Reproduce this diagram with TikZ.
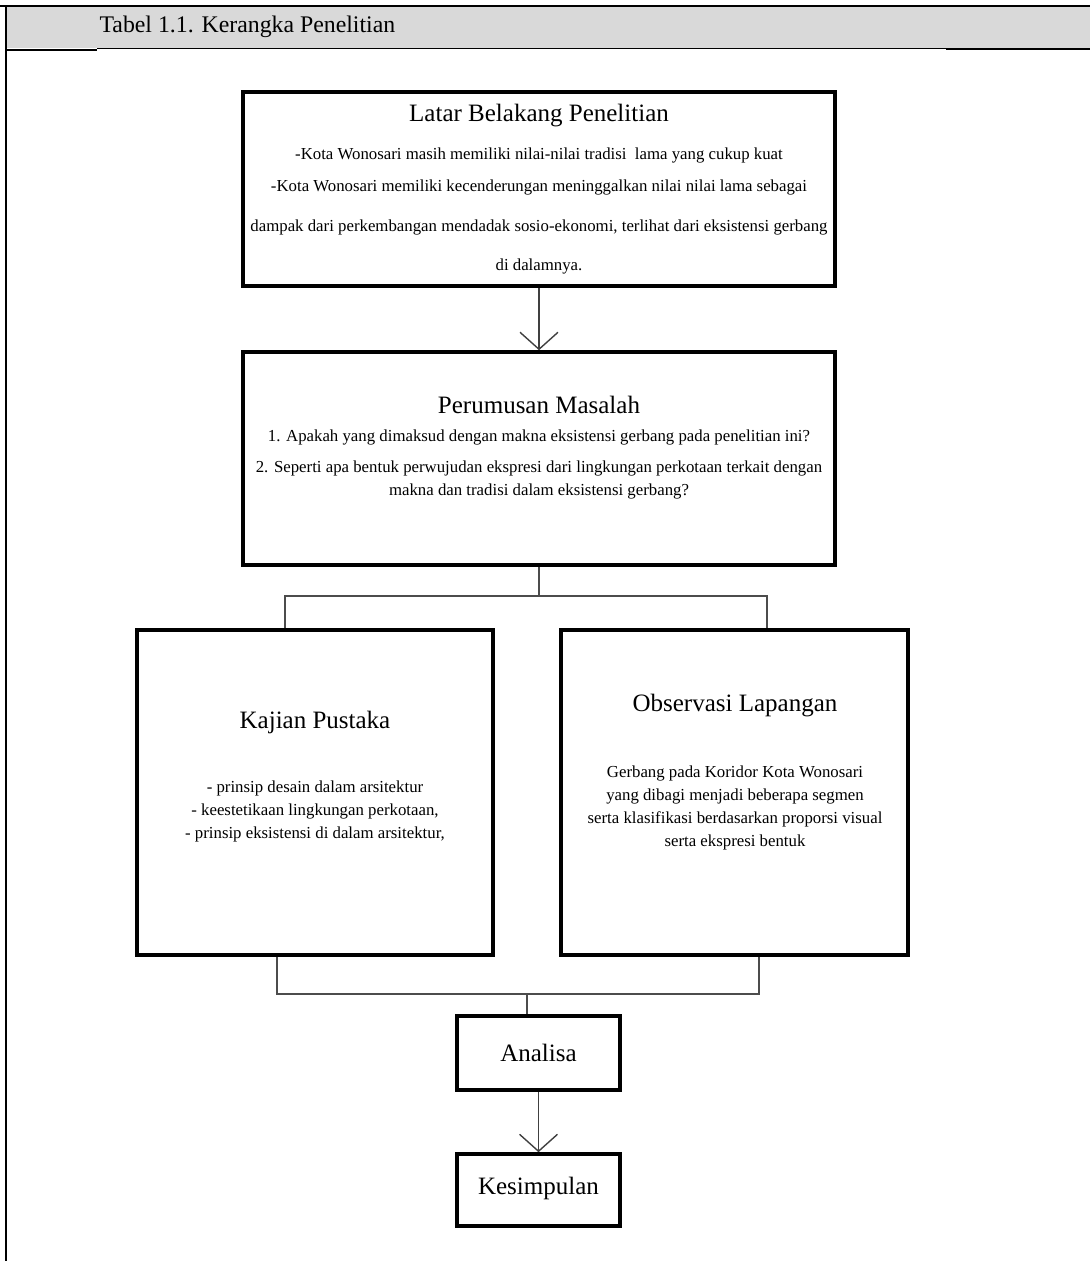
\documentclass[tikz,border=0pt]{standalone}
\usepackage{fontspec}
\setmainfont{Liberation Serif}
\usetikzlibrary{arrows.meta}

\begin{document}
\begin{tikzpicture}[x=1pt,y=-1pt,
    box/.style={draw=black, line width=3.6pt, inner sep=0pt},
    link/.style={draw=black!70, line width=1.8pt},
    flow/.style={draw=black!75, line width=1.4pt,
        -{Straight Barb[length=17pt,width=38pt,line width=1.4pt]}},
    title/.style={font=\fontsize{25}{30}\selectfont},
    body/.style={font=\fontsize{16.8}{23}\selectfont, align=center}]

    % page frame and header
    \useasboundingbox (0,0) rectangle (1090,1261);
    \fill[black!15] (6,7) rectangle (1090,48);
    \draw[line width=2pt] (0,6) -- (1090,6);
    \draw[line width=2pt] (6,5) -- (6,1261);
    \draw[line width=1.6pt] (6,50) -- (97,50);
    \draw[line width=0.8pt] (97,48.5) -- (946,48.5);
    \draw[line width=2.6pt] (946,49) -- (1090,49);
    \node[anchor=west, font=\fontsize{23.8}{28}\selectfont] (caption) at (96,27)
        {Tabel 1.1. Kerangka Penelitian};

    % boxes
    \node[box, minimum width=592pt, minimum height=194pt] (latar) at (539,189) {};
    \node[box, minimum width=592pt, minimum height=213pt] (rumusan) at (539,458.5) {};
    \node[box, minimum width=356pt, minimum height=325pt] (kajian) at (315,792.5) {};
    \node[box, minimum width=347pt, minimum height=325pt] (observasi) at (734.5,792.5) {};
    \node[box, minimum width=163pt, minimum height=74pt] (analisa) at (538.5,1053) {};
    \node[box, minimum width=163pt, minimum height=72pt] (kesimpulan) at (538.5,1190) {};

    % texts
    \node[title] (latarT) at (539,116) {Latar Belakang Penelitian};
    \node[body] (latar1) at (539,155)
        {-Kota Wonosari masih memiliki nilai-nilai tradisi\ \ lama yang cukup kuat};
    \node[body] (latar2) at (539,187)
        {-Kota Wonosari memiliki kecenderungan meninggalkan nilai nilai lama sebagai};
    \node[body] (latar3) at (539,227)
        {dampak dari perkembangan mendadak sosio-ekonomi, terlihat dari eksistensi gerbang};
    \node[body] (latar4) at (539,266) {di dalamnya.};

    \node[title] (rumusanT) at (539,405) {Perumusan Masalah};
    \node[body] (rumusan1) at (539,437)
        {1. Apakah yang dimaksud dengan makna eksistensi gerbang pada penelitian ini?};
    \node[body] (rumusan2) at (539,480)
        {2. Seperti apa bentuk perwujudan ekspresi dari lingkungan perkotaan terkait dengan\\
         makna dan tradisi dalam eksistensi gerbang?};

    \node[title] (kajianT) at (315,722) {Kajian Pustaka};
    \node[body] (kajian1) at (315,811)
        {- prinsip desain dalam arsitektur\\
         - keestetikaan lingkungan perkotaan,\\
         - prinsip eksistensi di dalam arsitektur,};

    \node[title] (observasiT) at (735,706) {Observasi Lapangan};
    \node[body] (observasi1) at (735,807.5)
        {Gerbang pada Koridor Kota Wonosari\\
         yang dibagi menjadi beberapa segmen\\
         serta klasifikasi berdasarkan proporsi visual\\
         serta ekspresi bentuk};

    \node[title] (analisaT) at (538.5,1053) {Analisa};
    \node[title] (kesimpulanT) at (538.5,1188) {Kesimpulan};

    % connectors
    \coordinate (split) at (539,596);
    \coordinate (merge) at (527,994);

    \draw[flow] (latar) -- (rumusan);
    \draw[link] (rumusan.south) -- (split);
    \draw[link] (kajian.north -| 285,0) |- (split) -| (observasi.north -| 767,0);
    \draw[link] (kajian.south -| 277,0) |- (merge) -| (observasi.south -| 759,0);
    \draw[link] (merge) -- (analisa.north -| merge);
    \draw[flow] (analisa) -- (kesimpulan);
\end{tikzpicture}
\end{document}
